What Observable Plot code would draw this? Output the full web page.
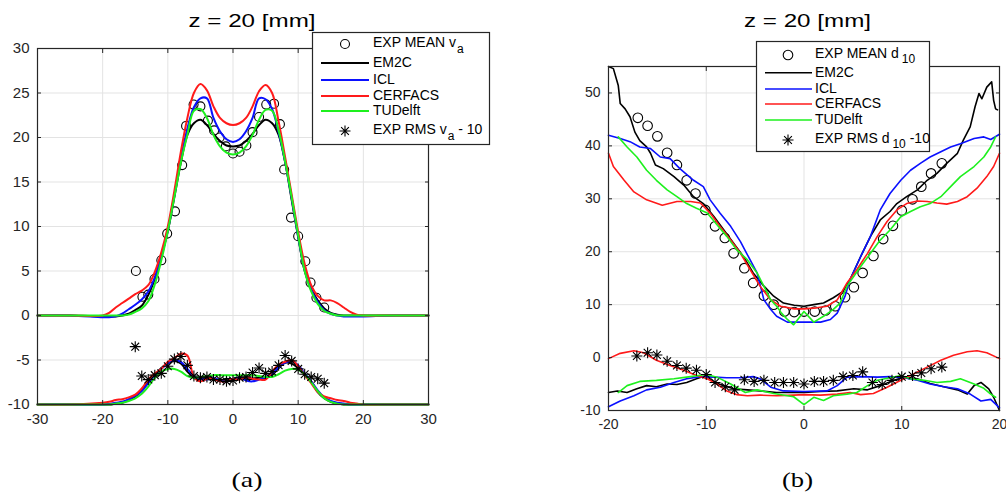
<!DOCTYPE html>
<html><head><meta charset="utf-8">
<script src="https://cdn.jsdelivr.net/npm/d3@7"></script>
<script src="https://cdn.jsdelivr.net/npm/@observablehq/plot@0.6"></script>
<style>
body{margin:0;background:#fff;}
#wrap{position:relative;width:1006px;height:493px;overflow:hidden;font-family:"Liberation Sans",Arial,sans-serif;background:#fff;}
#wrap svg{position:absolute;top:0;}
</style></head><body><div id="wrap"></div>
<script>
// ---------- Panel (a): axial velocity, z = 20 mm ----------
const aXTicks = [-30, -20, -10, 0, 10, 20, 30];
const aYTicks = [-10, -5, 0, 5, 10, 15, 20, 25, 30];
const aX = [-30,-25,-20,-19,-18,-17,-16,-15,-14,-13,-12,-11,-10,-9,-8,-7,-6,-5,-4,-3,-2,-1,0,1,2,3,4,5,6,7,8,9,10,11,12,13,14,15,16,17,18,19,20,25,30];
const aEM2C = [0,0,-0.1,-0.1,-0.1,0,0.2,0.6,1.1,2.3,4.1,6.6,9.5,13.3,17.2,20.3,21.6,22.0,21.4,20.4,19.6,19.1,19.0,19.1,19.6,20.4,21.4,22.0,21.6,20.3,17.2,13.0,8.8,5.0,3.0,1.7,0.8,0.3,0.1,0,0,0,0,0,0];
const aICL = [0,0,-0.2,-0.2,-0.1,0.2,0.7,1.2,1.8,2.7,4.3,6.7,9.6,13.5,17.6,21.0,23.4,24.4,24.4,22.2,20.7,19.8,19.5,19.8,20.7,22.2,24.4,24.3,23.2,20.6,17.3,13.2,8.9,5.1,2.9,1.5,0.6,0.2,0,-0.1,-0.1,-0.1,-0.1,0,0];
const aCERFACS = [0,0,0,0.3,0.9,1.4,1.9,2.4,2.8,3.4,4.9,7.1,10.0,14.0,18.4,22.2,25.0,26.0,25.3,23.5,22.2,21.6,21.4,21.6,22.2,23.5,25.2,25.9,25.0,21.8,17.8,13.6,9.4,5.8,3.4,2.2,1.7,1.7,1.4,0.9,0.4,0.1,0,0,0];
const aTUDelft = [0,0,0,0,0,0,0.1,0.4,0.8,1.6,3.5,6.2,9.5,13.3,17.2,20.3,23.0,23.2,22.2,20.3,19.0,18.3,18.1,18.3,19.0,20.3,22.0,23.1,23.0,20.8,17.3,13.3,9.0,5.0,2.7,1.3,0.5,0.2,0,0,0,0,0,0,0];
const aEM2C_rms = [-10,-10,-10,-10,-9.9,-9.8,-9.5,-9.1,-8.4,-7.4,-6.7,-5.9,-5.4,-5.1,-5.4,-6.3,-7.0,-7.2,-7.0,-7.2,-7.3,-7.1,-7.2,-7.0,-7.2,-7.1,-7.0,-7.0,-6.7,-5.9,-5.3,-5.4,-5.9,-6.7,-7.4,-8.6,-9.3,-9.7,-9.9,-10,-10,-10,-10,-10,-10];
const aICL_rms = [-10,-10,-10,-9.95,-9.8,-9.7,-9.4,-9.0,-8.5,-7.6,-6.8,-6.0,-5.4,-5.0,-5.2,-6.0,-6.8,-7.1,-7.2,-7.0,-7.3,-7.4,-7.1,-7.0,-7.3,-7.4,-7.2,-6.9,-6.5,-5.8,-5.3,-5.1,-5.6,-6.5,-7.4,-8.4,-9.2,-9.6,-9.8,-9.9,-10,-10,-10,-10,-10];
const aCERFACS_rms = [-10,-10,-9.8,-9.7,-9.5,-9.4,-9.2,-8.9,-8.2,-7.2,-6.5,-6.0,-5.2,-4.8,-4.3,-4.5,-6.9,-7.4,-7.1,-7.1,-7.4,-7.4,-7.1,-7.2,-6.9,-7.1,-7.2,-7.2,-6.3,-5.5,-5.2,-5.0,-5.7,-6.7,-7.6,-8.6,-9.1,-9.3,-9.5,-9.6,-9.8,-9.9,-10,-10,-10];
const aTUDelft_rms = [-10,-10,-10,-10,-9.9,-9.8,-9.6,-9.3,-8.8,-8.0,-7.0,-6.3,-6.0,-6.0,-6.3,-6.8,-7.0,-6.9,-6.8,-6.7,-6.7,-6.7,-6.7,-6.7,-6.7,-6.7,-6.8,-6.9,-6.9,-6.6,-6.2,-6.0,-6.1,-6.6,-7.5,-8.5,-9.3,-9.7,-9.9,-10,-10,-10,-10,-10,-10];
const aExpMeanX = [-14.9,-13.9,-13.0,-12.05,-11.0,-10.1,-8.9,-7.8,-7.2,-6.05,-5.0,-3.85,-2.9,-2.05,-1.1,0,1.0,2.05,3.0,4.0,5.1,6.3,7.2,7.85,8.9,10,11.1,11.9,12.8,14];
const aExpMean = [5.0,2.1,2.35,4.1,6.2,9.2,11.7,16.9,21.3,23.7,23.5,21.9,20.8,20.0,19.0,18.2,18.4,19.1,20.6,22.3,23.7,23.8,21.5,16.4,11.0,8.9,6.1,3.7,2.0,0.9];
const aExpRmsX = [-15,-14,-13,-12,-11,-10,-9,-8,-7,-6,-5,-4,-3,-2,-1,0,1,2,3,4,5,6,7,8,9,10,11,12,13,14];
const aExpRms = [-3.5,-6.8,-7.2,-6.7,-6.5,-5.7,-4.9,-4.6,-5.6,-6.8,-7.0,-6.9,-7.2,-7.2,-7.4,-7.3,-7.0,-6.9,-6.4,-5.9,-6.5,-6.3,-5.6,-4.5,-5.1,-6.0,-6.6,-6.9,-7.1,-7.6];

// ---------- Panel (b): droplet diameter d10, z = 20 mm ----------
const bXTicks = [-20, -10, 0, 10, 20];
const bYTicks = [-10, 0, 10, 20, 30, 40, 50];
const bEM2C_x = [-20,-19.5,-19,-18.8,-18.3,-17.8,-17.3,-16.8,-16.1,-15.7,-15.2,-14.4,-13.3,-12.3,-11.3,-10.3,-9.2,-8.2,-7.2,-6.2,-5.2,-4.1,-3.1,-2.1,-1,0,1,2,3,4,4.7,5.8,6.8,7.8,8.8,9.5,10.5,11.6,12.6,13.6,14.6,15.7,16.3,17,17.5,17.9,18.2,18.7,19.2,19.4,19.6,19.8];
const bEM2C_y = [55,54.6,51.4,48,47,45.5,42.6,41,39.8,38.6,36.4,35.7,34.2,32.6,30.4,29.1,26.6,24.1,21.6,19.1,16,13.5,11.6,10.3,9.9,9.7,10,10.3,11.3,12.5,14.7,19.1,22.9,26,27.6,29.1,30.4,31.7,33.5,34.8,36.7,38.6,41.1,43.6,47.4,49.9,48.9,51.1,52.1,48.6,47,46.8];
const bICL_x = [-20,-18.8,-17.8,-16.8,-15.7,-14.7,-13.7,-12.7,-11.3,-10.3,-9.6,-8.6,-7.5,-6.5,-5.7,-4.8,-4.1,-3.4,-2.8,-1.7,0,1.7,2.7,3.4,4.2,4.7,5.8,6.8,7.8,8.8,9.9,10.9,11.9,12.9,14,15,16,17.4,18.4,19.1,20];
const bICL_y = [42,41.4,40.8,39.8,39.5,37.9,37.6,35.7,33.5,32.3,29.8,27.3,24.8,21.9,19.1,16,10.9,9.1,7.8,6.7,6.7,6.7,7.2,8.4,11.6,14.7,19.1,22.9,27.9,31,33.5,35.4,36.7,37.9,38.9,39.8,40.4,41.4,41.7,41.2,42.2];
const bCERFACS_x = [-20,-19.5,-18.4,-17.4,-16.1,-14.5,-13,-11.6,-10.6,-9.6,-8.6,-7.5,-6.5,-5.5,-4.5,-3.4,-2.4,-1,0,1.3,2.35,3.4,4.4,5.4,6.5,7.5,8.5,9.5,10.5,11.6,12.6,13.6,14.6,15.7,16.7,17.7,18.7,19.4,20];
const bCERFACS_y = [38.6,36.1,33.5,31.3,29.8,28.8,29.5,29.5,29.2,27.3,24.8,22.2,19.7,16.6,13.5,10.9,9.7,9.2,9.2,9.4,9.7,10.9,14.1,16.6,19.7,22.9,25.7,27.9,29.1,29.6,29.5,29.2,29,29.5,30.4,32,34.2,36.1,38.6];
const bTUDelft_x = [-19,-18.1,-17.1,-16.1,-15.1,-14,-13,-12,-11,-9.9,-8.9,-7.9,-6.9,-5.8,-4.8,-3.4,-2.8,-2.3,-1.7,-1.06,0,1,2,3,3.7,4.4,5.8,6.8,7.8,8.8,9.9,10.9,11.9,12.9,14,15,16,17.4,18.4,19.1,19.6];
const bTUDelft_y = [41.7,39.8,37.9,35.4,33.5,31.7,30.4,29.1,28.2,27.3,25.1,22.9,20.4,18.5,16,10.9,9.7,8.4,7.2,6.2,8.7,6.7,7.8,9.1,10.3,13.5,17.2,19.7,22.2,24.1,26.6,27.6,28.5,29.1,30.4,32.3,34.2,36.1,37.9,39.8,41.7];
const bEM2C_rms_x = [-20,-19.1,-18.1,-17.1,-16.1,-15.1,-14,-13,-12,-11,-10,-9.2,-8.2,-7.2,-5.8,-4.5,-2.8,-1.06,0,1.7,3.4,5.1,6.5,7.8,9.2,10.2,11.6,12.9,14.3,15.7,16.7,17.4,18.1,18.9,19.4,20];
const bEM2C_rms_y = [-6.6,-6.3,-6.6,-5.9,-5.3,-5.5,-5,-5.1,-4.7,-4,-3.4,-4.7,-5.3,-5.9,-6.1,-6.3,-6.6,-6.6,-6.6,-6.4,-6.3,-5.9,-6.1,-5.3,-4.3,-3.7,-4,-4.9,-5.5,-6.1,-6.9,-5.3,-4.7,-5.9,-7.5,-10];
const bICL_rms_x = [-20,-18.8,-17.4,-16.1,-14.7,-13.3,-12,-10.6,-9.2,-7.9,-6.5,-5.2,-4.5,-3.4,-2.1,0,2.35,3.4,4.4,5.8,7.5,8.8,10.2,11.6,12.9,14.3,15.7,17,18.1,19.1,20];
const bICL_rms_y = [-9.3,-8.2,-7.2,-6.1,-5.6,-4.7,-4,-3.6,-3.7,-3.8,-3.8,-3.6,-4,-5.6,-6.3,-6.4,-6.3,-5.3,-3.7,-3.6,-3.7,-3.6,-3.8,-4.3,-5,-5.5,-5.9,-6.9,-8.2,-7.9,-9.5];
const bCERFACS_rms_x = [-20,-18.8,-17.4,-16.4,-15.1,-13.7,-12.3,-11,-9.9,-8.9,-7.9,-6.9,-5.8,-4.5,-2.8,-1.06,0,1.7,3.4,4.7,5.8,7.1,8.5,9.9,11.2,12.6,14,15.3,16.7,17.7,18.7,20];
const bCERFACS_rms_y = [-0.2,0.8,1.3,0.9,-0.5,-1.5,-2.4,-3.4,-4,-5,-6.3,-7,-7.2,-7.1,-7.2,-7.1,-7,-7.1,-6.9,-6.6,-7,-6.8,-5.6,-4.3,-3.1,-1.8,-0.5,0.45,1.1,1.3,0.9,-0.2];
const bTUDelft_rms_x = [-19,-18.1,-16.8,-15.1,-13.3,-12,-10,-8.9,-7.5,-6,-4.8,-3.1,-1.06,0,1,2,3,4.4,5.4,6.5,7.5,8.8,9.9,10.9,12.3,13.6,15,16,17.4,18.4,19.1,19.6];
const bTUDelft_rms_y = [-6.6,-5.3,-4.5,-4.3,-4,-3.7,-3.2,-3.7,-5,-6.6,-6.1,-6.8,-7.4,-8.9,-7.5,-8.1,-7.2,-6.9,-6.6,-5.3,-4.3,-3.8,-3.4,-4,-4.3,-4.7,-4.5,-4,-5,-5.8,-6.9,-7.5];
const bExpMeanX = [-17,-16,-15,-14,-13,-12,-11.1,-10.1,-9.1,-8.1,-7.2,-6.1,-5.2,-4.1,-3.1,-2,-1,0,1.1,2.2,3.2,4.2,5.1,6,7.1,8.1,9.1,10,11.1,12,13,14.1];
const bExpMean = [45.3,43.8,41.8,38.7,36.4,33.5,31.0,27.9,24.8,22.6,19.7,16.9,14.1,11.7,10.0,8.7,8.6,8.7,8.7,8.9,9.7,11.4,13.3,16.0,19.2,22.4,24.9,27.8,29.9,32.3,34.8,36.7];
const bExpRmsX = [-17.1,-16,-15.05,-14,-13,-12.05,-11,-10,-9.1,-8.05,-7.1,-6.1,-5.1,-4.1,-3,-2.1,-1.06,0,1.06,2,3,4,5,6,7,8,9,10,11.1,12,13,14.1];
const bExpRms = [0.3,0.9,0.5,-0.7,-1.5,-2.0,-2.4,-3.2,-4.7,-5.5,-6.1,-4.2,-4.5,-4.3,-4.7,-4.7,-4.7,-5.0,-4.5,-4.5,-4.3,-3.6,-3.4,-2.7,-4.7,-5.1,-4.3,-3.6,-3.4,-2.9,-2.1,-1.8];

const seriesNames = ["EM2C", "ICL", "CERFACS", "TUDelft"];
const seriesColors = ["#000000", "#0a10ff", "#ff1a1a", "#1ef01e"];

// ---------- helpers ----------
const zip = (xs, ys) => xs.map((x, i) => ({x, y: ys[i]}));
const asterisk = {
  draw(ctx, size) {
    const r = Math.sqrt(size / Math.PI), d = r * Math.SQRT1_2;
    ctx.moveTo(0, -r); ctx.lineTo(0, r);
    ctx.moveTo(-r, 0); ctx.lineTo(r, 0);
    ctx.moveTo(-d, -d); ctx.lineTo(d, d);
    ctx.moveTo(-d, d); ctx.lineTo(d, -d);
  }
};
const INK = "#262626", GRID = "#e3e3e3";
const fmt = d => String(d);

function frameMarks(xt, yt) {
  return [
    Plot.gridX(xt, {stroke: GRID, strokeOpacity: 1, strokeWidth: 1}),
    Plot.gridY(yt, {stroke: GRID, strokeOpacity: 1, strokeWidth: 1})
  ];
}
function axisMarks(xt, yt, fs) {
  return [
    Plot.frame({stroke: INK, strokeWidth: 1.2}),
    Plot.axisX(xt, {anchor: "bottom", tickSize: 0, tickPadding: 9, label: null, fontSize: fs, fill: INK, tickFormat: fmt}),
    Plot.axisY(yt, {anchor: "left", tickSize: 0, tickPadding: 8, label: null, fontSize: fs, fill: INK, tickFormat: fmt}),
    Plot.axisX(xt, {anchor: "bottom", tickSize: -4, fill: "none", stroke: INK, label: null}),
    Plot.axisX(xt, {anchor: "top", tickSize: -4, fill: "none", stroke: INK, label: null}),
    Plot.axisY(yt, {anchor: "left", tickSize: -4, fill: "none", stroke: INK, label: null}),
    Plot.axisY(yt, {anchor: "right", tickSize: -4, fill: "none", stroke: INK, label: null})
  ];
}

const wrap = document.getElementById("wrap");

// ---------- Panel (a) ----------
const aMeanSeries = [aEM2C, aICL, aCERFACS, aTUDelft];
const aRmsSeries = [aEM2C_rms, aICL_rms, aCERFACS_rms, aTUDelft_rms];
const plotA = Plot.plot({
  width: 503, height: 493,
  marginLeft: 37, marginRight: 75, marginTop: 48, marginBottom: 89,
  x: {domain: [-30, 30]},
  y: {domain: [-10, 30]},
  style: {fontFamily: '"Liberation Sans", Arial, sans-serif', background: "transparent", overflow: "visible"},
  marks: [
    ...frameMarks(aXTicks, aYTicks),
    Plot.dot(zip(aExpMeanX, aExpMean), {x: "x", y: "y", r: 4.5, stroke: "#000", strokeWidth: 1.1, fill: "none"}),
    ...aMeanSeries.map((s, k) => Plot.line(zip(aX, s), {x: "x", y: "y", stroke: seriesColors[k], strokeWidth: 2, curve: "catmull-rom"})),
    ...aRmsSeries.map((s, k) => Plot.line(zip(aX, s), {x: "x", y: "y", stroke: seriesColors[k], strokeWidth: 2, curve: "catmull-rom"})),
    Plot.dot(zip(aExpRmsX, aExpRms), {x: "x", y: "y", r: 5.5, symbol: asterisk, stroke: "#000", strokeWidth: 1.1, fill: "none"}),
    ...axisMarks(aXTicks, aYTicks, 15)
  ]
});
plotA.style.left = "0px";
wrap.appendChild(plotA);

// ---------- Panel (b) ----------
const bMean = [[bEM2C_x, bEM2C_y], [bICL_x, bICL_y], [bCERFACS_x, bCERFACS_y], [bTUDelft_x, bTUDelft_y]];
const bRms = [[bEM2C_rms_x, bEM2C_rms_y], [bICL_rms_x, bICL_rms_y], [bCERFACS_rms_x, bCERFACS_rms_y], [bTUDelft_rms_x, bTUDelft_rms_y]];
const plotB = Plot.plot({
  width: 503, height: 493,
  marginLeft: 105, marginRight: 7, marginTop: 66, marginBottom: 83,
  x: {domain: [-20, 20]},
  y: {domain: [-10, 55]},
  style: {fontFamily: '"Liberation Sans", Arial, sans-serif', background: "transparent", overflow: "visible"},
  marks: [
    ...frameMarks(bXTicks, bYTicks),
    Plot.dot(zip(bExpMeanX, bExpMean), {x: "x", y: "y", r: 4.8, stroke: "#000", strokeWidth: 1.1, fill: "none"}),
    ...bMean.map(([xs, ys], k) => Plot.line(zip(xs, ys), {x: "x", y: "y", stroke: seriesColors[k], strokeWidth: 1.6})),
    ...bRms.map(([xs, ys], k) => Plot.line(zip(xs, ys), {x: "x", y: "y", stroke: seriesColors[k], strokeWidth: 1.6})),
    Plot.dot(zip(bExpRmsX, bExpRms), {x: "x", y: "y", r: 5.5, symbol: asterisk, stroke: "#000", strokeWidth: 1.1, fill: "none"}),
    ...axisMarks(bXTicks, bYTicks, 14)
  ]
});
plotB.style.left = "503px";
wrap.appendChild(plotB);

// ---------- Overlay: titles, panel labels, legends ----------
const ov = d3.create("svg").attr("width", 1006).attr("height", 493)
  .style("left", "0px").style("font-family", '"Liberation Sans", Arial, sans-serif');

const titles = [{x: 252, text: "z = 20 [mm]"}, {x: 807.5, text: "z = 20 [mm]"}];
titles.forEach(t => ov.append("text").attr("x", t.x).attr("y", 27).attr("text-anchor", "middle")
  .attr("font-size", 19).attr("fill", "#000").attr("textLength", 127).attr("lengthAdjust", "spacingAndGlyphs").text(t.text));
const panelLabels = [{x: 247, text: "(a)"}, {x: 797.5, text: "(b)"}];
panelLabels.forEach(t => ov.append("text").attr("x", t.x).attr("y", 487).attr("text-anchor", "middle")
  .attr("font-family", '"Liberation Serif", "Times New Roman", serif').attr("font-size", 22)
  .attr("textLength", 31).attr("lengthAdjust", "spacingAndGlyphs").attr("fill", "#000").text(t.text));

function drawLegend(cfg) {
  const g = ov.append("g");
  g.append("rect").attr("x", cfg.box[0]).attr("y", cfg.box[1]).attr("width", cfg.box[2]).attr("height", cfg.box[3])
    .attr("fill", "#fff").attr("stroke", INK).attr("stroke-width", 1.2);
  const ys = cfg.rows;
  g.append("circle").attr("cx", cfg.mx).attr("cy", ys[0]).attr("r", cfg.r).attr("fill", "none").attr("stroke", "#000").attr("stroke-width", 1.1);
  seriesNames.forEach((name, k) => {
    g.append("line").attr("x1", cfg.x1).attr("x2", cfg.x2).attr("y1", ys[k + 1]).attr("y2", ys[k + 1])
      .attr("stroke", seriesColors[k]).attr("stroke-width", cfg.lw);
    g.append("text").attr("x", cfg.tx).attr("y", ys[k + 1] + 4.3).attr("font-size", 14).attr("fill", "#000").text(name);
  });
  const r = 5.5, d = r * Math.SQRT1_2;
  g.append("path").attr("transform", `translate(${cfg.mx},${ys[5]})`)
    .attr("d", `M0,${-r}V${r}M${-r},0H${r}M${-d},${-d}L${d},${d}M${-d},${d}L${d},${-d}`)
    .attr("stroke", "#000").attr("stroke-width", 1.1).attr("fill", "none");
  [[0, cfg.meanLabel], [5, cfg.rmsLabel]].forEach(([row, parts]) => {
    const t = g.append("text").attr("x", cfg.tx).attr("y", ys[row] + 3).attr("font-size", 14).attr("fill", "#000");
    t.append("tspan").text(parts[0]);
    t.append("tspan").attr("dx", parts[3]).attr("dy", cfg.subDy).attr("font-size", 12).text(parts[1]);
    if (parts[2]) t.append("tspan").attr("dy", -cfg.subDy).text(parts[2]);
  });
}
drawLegend({box: [312.5, 32.5, 177, 112], rows: [44, 63, 80, 96, 111, 131], mx: 345, r: 4.5, x1: 321, x2: 369, tx: 373, lw: 2, subDy: 6,
  meanLabel: ["EXP MEAN v", "a", "", 1], rmsLabel: ["EXP RMS v", "a", " - 10", 1]});
drawLegend({box: [756.5, 41.5, 173, 110], rows: [55, 72.7, 89, 104, 120, 140], mx: 788, r: 4.8, x1: 765, x2: 812, tx: 815, lw: 1.6, subDy: 5,
  meanLabel: ["EXP MEAN d", "10", "", 3], rmsLabel: ["EXP RMS d", "10", " -10", 3]});

wrap.appendChild(ov.node());
</script></body></html>
